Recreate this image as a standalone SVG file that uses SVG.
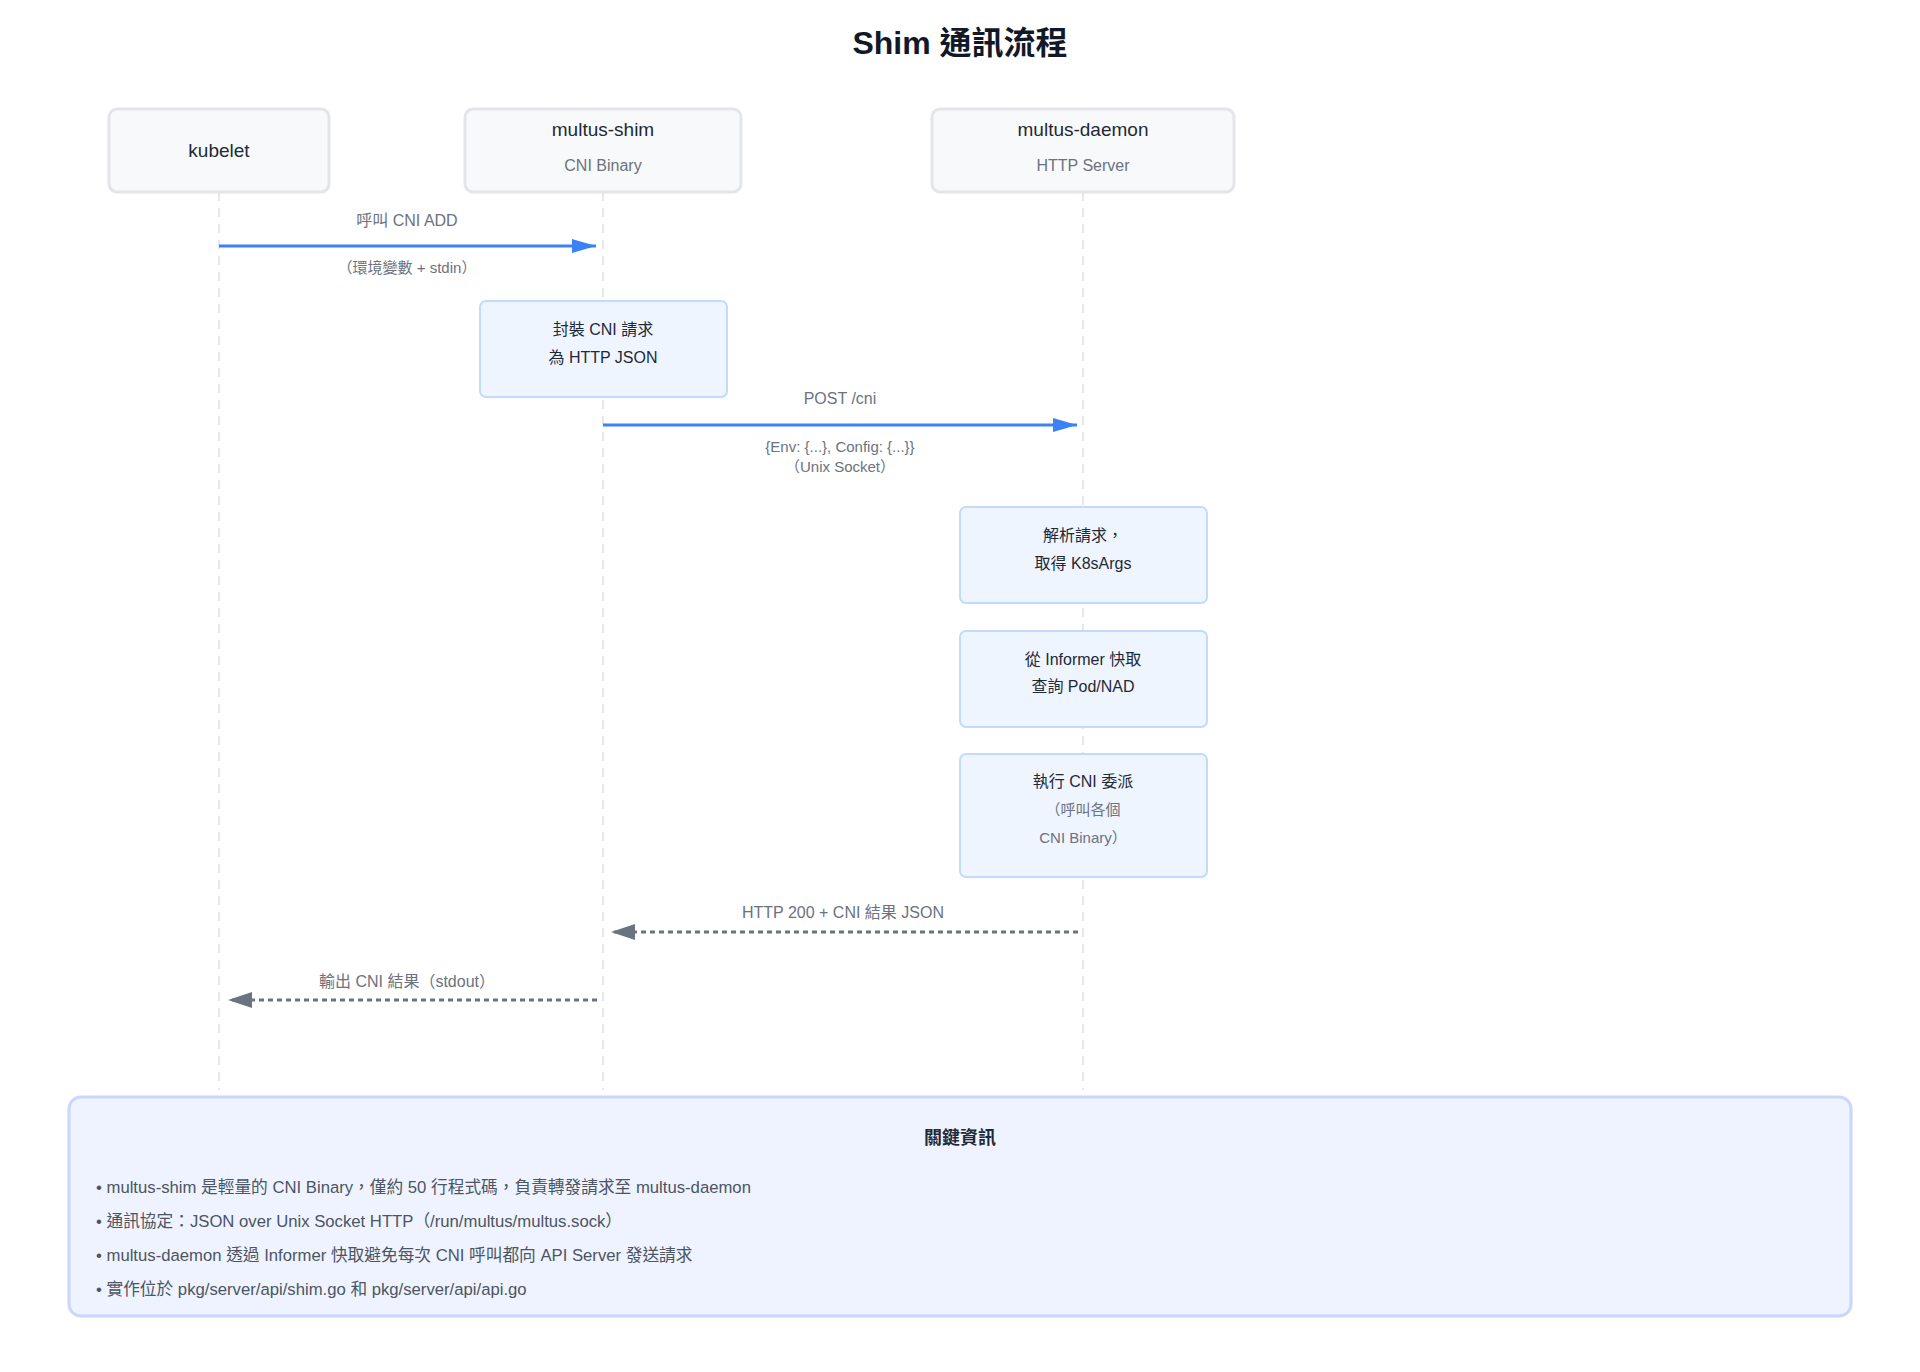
<svg xmlns="http://www.w3.org/2000/svg" width="1920" height="1372" viewBox="0 0 1920 1372">
<style>
text { font-family: "Liberation Sans", "Noto Sans CJK TC", sans-serif; }
.title { font-size: 32px; font-weight: bold; fill: #111827; }
.actor { fill: #f8f9fa; stroke: #e3e5e8; stroke-width: 3; }
.aname { font-size: 19px; fill: #1f2937; }
.asub { font-size: 16px; fill: #6b7280; }
.life { stroke: #e5e7eb; stroke-width: 2; stroke-dasharray: 9 7; fill: none; }
.proc { fill: #eef5ff; stroke: #bfdbfe; stroke-width: 2; }
.ptext { font-size: 16px; fill: #1f2937; }
.psub { font-size: 15px; fill: #6b7280; }
.call { stroke: #3b82f6; stroke-width: 3; fill: none; }
.ret { stroke: #6b7280; stroke-width: 3; stroke-dasharray: 5 4; fill: none; }
.lbl { font-size: 16px; fill: #6b7280; }
.slbl { font-size: 15px; fill: #6b7280; }
.info { fill: #eff3ff; stroke: #cad6fb; stroke-width: 3; }
.ititle { font-size: 18px; font-weight: bold; fill: #1f2937; }
.itext { font-size: 16.7px; fill: #4b5563; }
</style>
<defs>
<marker id="ab" markerUnits="userSpaceOnUse" markerWidth="24" markerHeight="14" refX="24" refY="7" orient="auto">
<path d="M0,0 L24,7 L0,14 z" fill="#3b82f6"/>
</marker>
<marker id="ag" markerUnits="userSpaceOnUse" markerWidth="24" markerHeight="16" refX="24" refY="8" orient="auto">
<path d="M0,0 L24,8 L0,16 z" fill="#6b7280"/>
</marker>
</defs>
<rect width="1920" height="1372" fill="#ffffff"/>
<text class="title" x="960" y="54" text-anchor="middle">Shim 通訊流程</text>

<g id="lifelines">
<line class="life" x1="219" y1="192" x2="219" y2="1090"/>
<line class="life" x1="603" y1="192" x2="603" y2="1090"/>
<line class="life" x1="1083" y1="192" x2="1083" y2="1090"/>
</g>

<g id="kubelet">
<rect class="actor" x="109" y="109" width="220" height="83" rx="8"/>
<text class="aname" x="219" y="157" text-anchor="middle">kubelet</text>
</g>
<g id="multus-shim">
<rect class="actor" x="465" y="109" width="276" height="83" rx="8"/>
<text class="aname" x="603" y="136" text-anchor="middle">multus-shim</text>
<text class="asub" x="603" y="171" text-anchor="middle">CNI Binary</text>
</g>
<g id="multus-daemon">
<rect class="actor" x="932" y="109" width="302" height="83" rx="8"/>
<text class="aname" x="1083" y="136" text-anchor="middle">multus-daemon</text>
<text class="asub" x="1083" y="171" text-anchor="middle">HTTP Server</text>
</g>

<g id="step-wrap">
<rect class="proc" x="480" y="301" width="247" height="96" rx="6"/>
<text class="ptext" x="603" y="335" text-anchor="middle">封裝 CNI 請求</text>
<text class="ptext" x="603" y="363" text-anchor="middle">為 HTTP JSON</text>
</g>
<g id="step-parse">
<rect class="proc" x="960" y="507" width="247" height="96" rx="6"/>
<text class="ptext" x="1083" y="541" text-anchor="middle">解析請求，</text>
<text class="ptext" x="1083" y="569" text-anchor="middle">取得 K8sArgs</text>
</g>
<g id="step-informer">
<rect class="proc" x="960" y="631" width="247" height="96" rx="6"/>
<text class="ptext" x="1083" y="665" text-anchor="middle">從 Informer 快取</text>
<text class="ptext" x="1083" y="692" text-anchor="middle">查詢 Pod/NAD</text>
</g>
<g id="step-delegate">
<rect class="proc" x="960" y="754" width="247" height="123" rx="6"/>
<text class="ptext" x="1083" y="787" text-anchor="middle">執行 CNI 委派</text>
<text class="psub" x="1083" y="815" text-anchor="middle">（呼叫各個</text>
<text class="psub" x="1083" y="843" text-anchor="middle">CNI Binary）</text>
</g>

<g id="connectors">
<line class="call" x1="219" y1="246" x2="596" y2="246" marker-end="url(#ab)"/>
<text class="lbl" x="407" y="226" text-anchor="middle">呼叫 CNI ADD</text>
<text class="slbl" x="407" y="273" text-anchor="middle">（環境變數 + stdin）</text>

<line class="call" x1="603" y1="425" x2="1077" y2="425" marker-end="url(#ab)"/>
<text class="lbl" x="840" y="404" text-anchor="middle">POST /cni</text>
<text class="slbl" x="840" y="452" text-anchor="middle">{Env: {...}, Config: {...}}</text>
<text class="slbl" x="840" y="472" text-anchor="middle">（Unix Socket）</text>

<line class="ret" x1="1078" y1="932" x2="611" y2="932" marker-end="url(#ag)"/>
<text class="lbl" x="843" y="918" text-anchor="middle">HTTP 200 + CNI 結果 JSON</text>

<line class="ret" x1="597" y1="1000" x2="228" y2="1000" marker-end="url(#ag)"/>
<text class="lbl" x="407" y="987" text-anchor="middle">輸出 CNI 結果（stdout）</text>
</g>

<g id="info">
<rect class="info" x="69" y="1097" width="1782" height="219" rx="12"/>
<text class="ititle" x="960" y="1144" text-anchor="middle">關鍵資訊</text>
<text class="itext" x="96" y="1193">• multus-shim 是輕量的 CNI Binary，僅約 50 行程式碼，負責轉發請求至 multus-daemon</text>
<text class="itext" x="96" y="1227">• 通訊協定：JSON over Unix Socket HTTP（/run/multus/multus.sock）</text>
<text class="itext" x="96" y="1261">• multus-daemon 透過 Informer 快取避免每次 CNI 呼叫都向 API Server 發送請求</text>
<text class="itext" x="96" y="1295">• 實作位於 pkg/server/api/shim.go 和 pkg/server/api/api.go</text>
</g>
</svg>
